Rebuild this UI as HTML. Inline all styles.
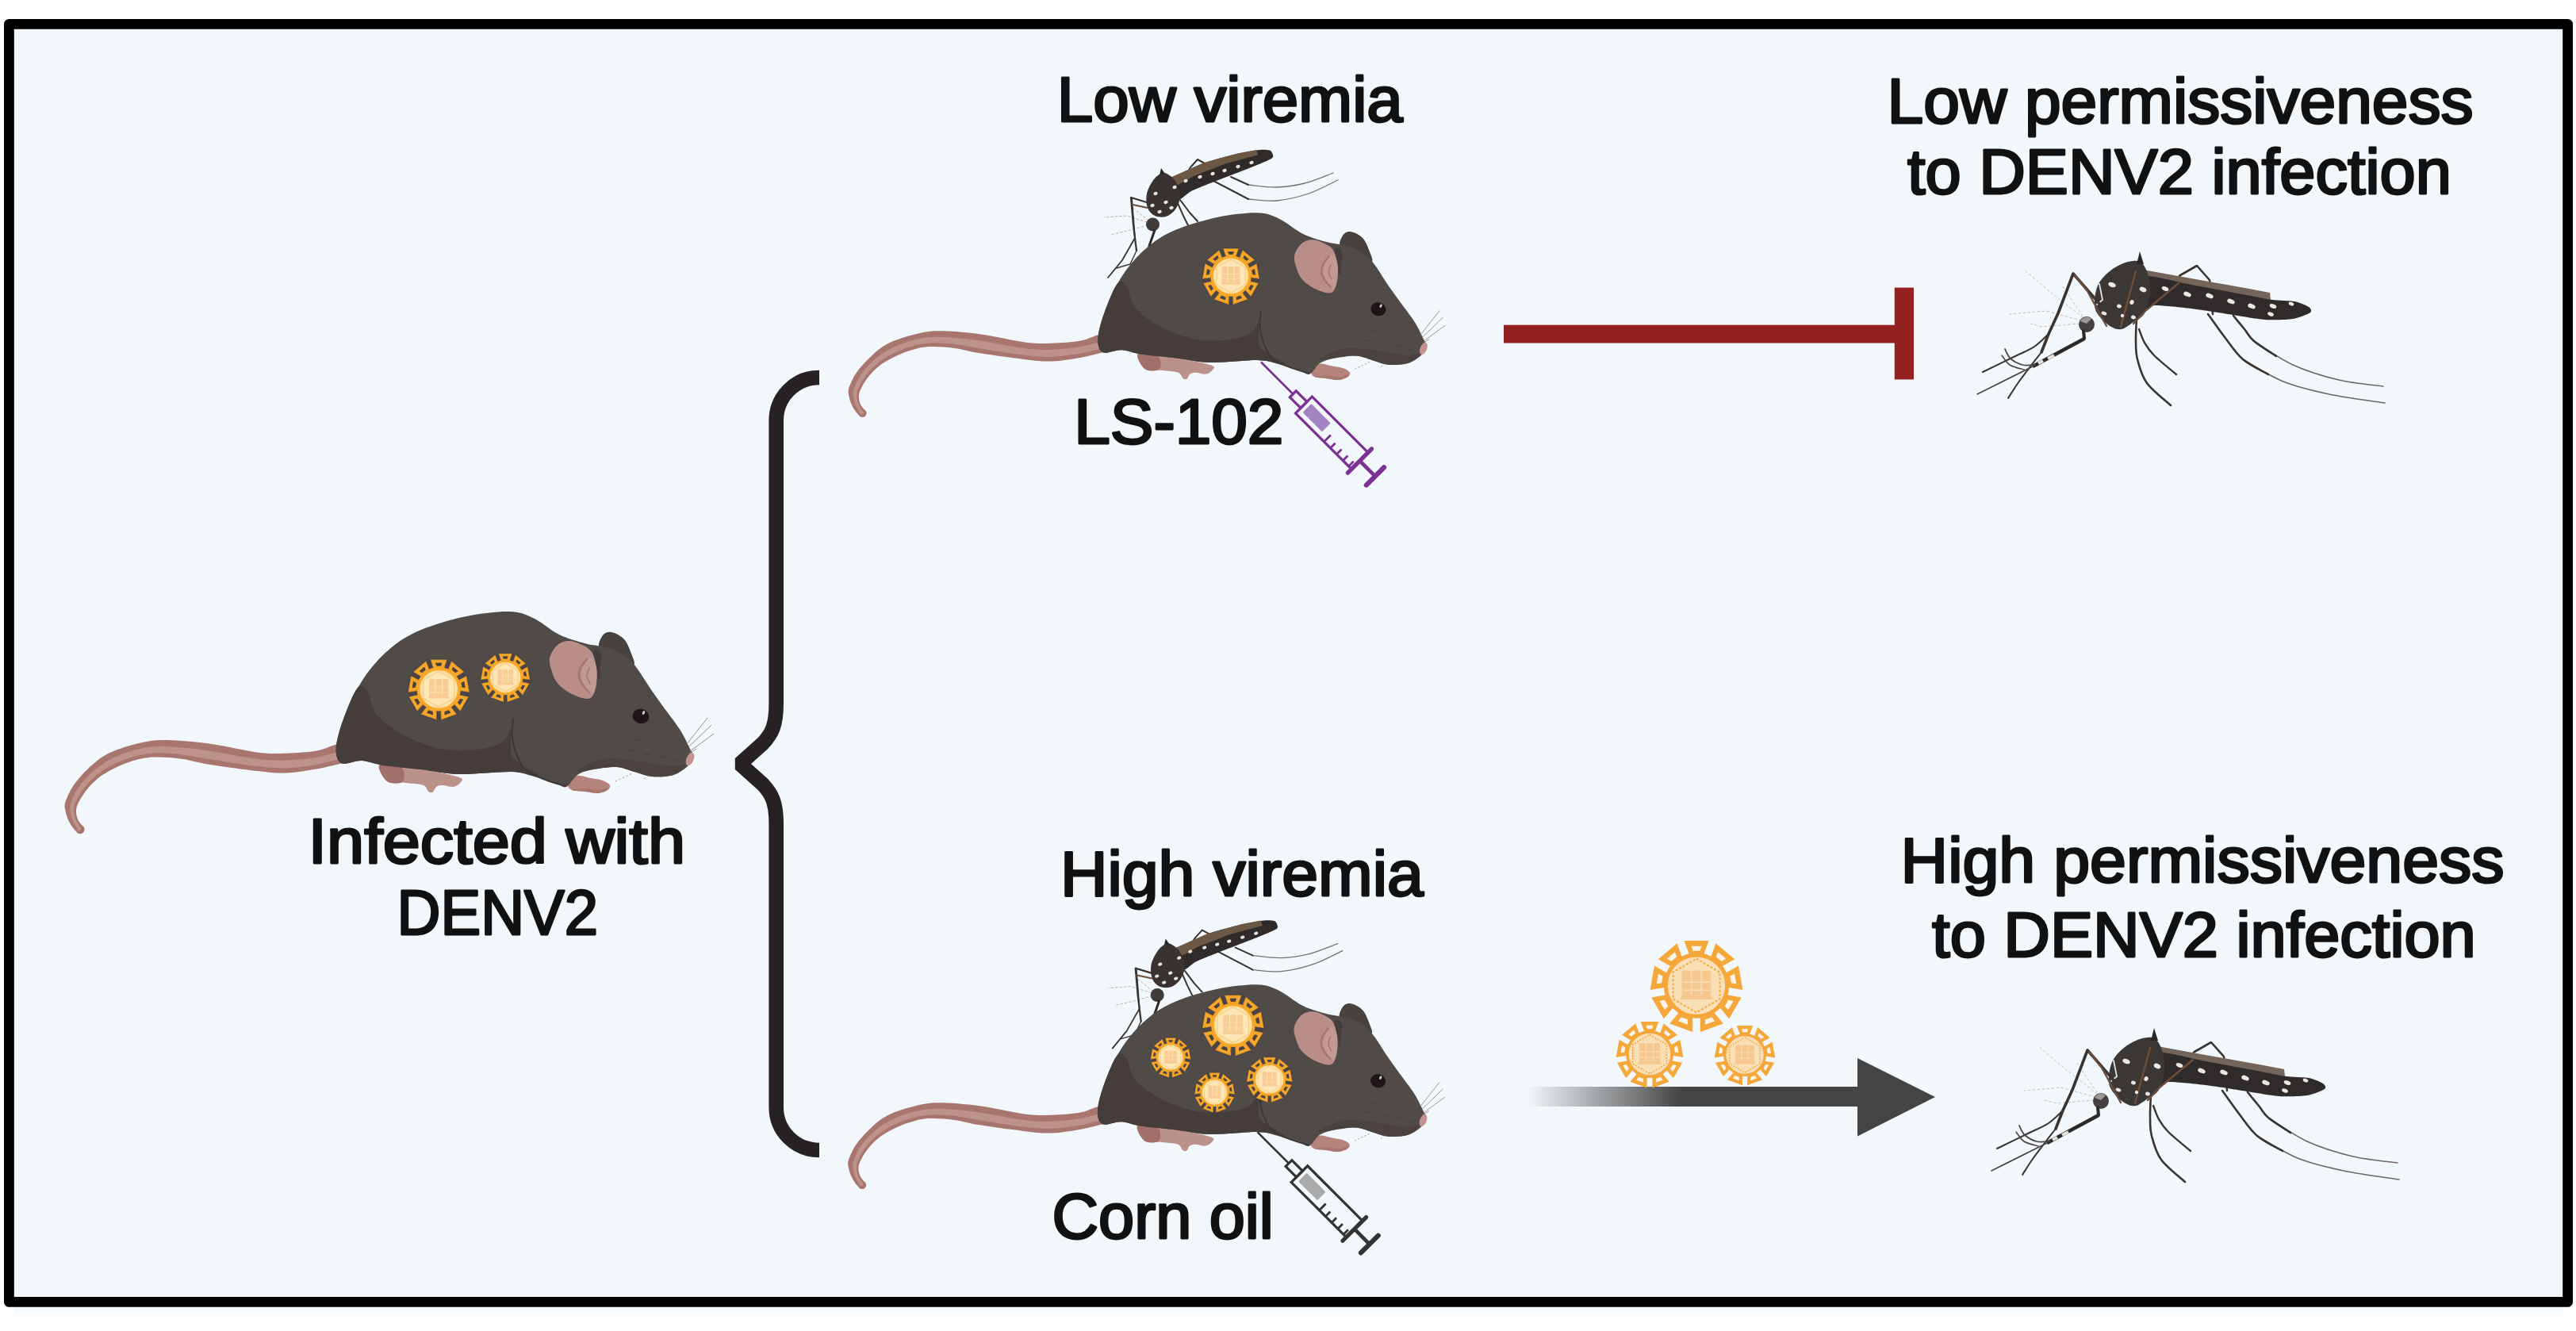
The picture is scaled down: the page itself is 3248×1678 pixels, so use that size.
<!DOCTYPE html>
<html lang="en"><head><meta charset="utf-8"><title>DENV2 LS-102 graphical abstract</title>
<style>
html,body{margin:0;padding:0;background:#fff;}
body{width:3248px;height:1678px;overflow:hidden;}
svg{display:block;font-family:"Liberation Sans",sans-serif;}
.t{font-size:79px;fill:#111;stroke:#111;stroke-width:2.9px;stroke-linejoin:round;paint-order:stroke;text-anchor:middle;}
.liq{fill:var(--l);}
</style></head><body>
<svg width="3248" height="1678" viewBox="0 0 3248 1678">
<defs>
<linearGradient id="ag" x1="1926" x2="2120" y1="0" y2="0" gradientUnits="userSpaceOnUse"><stop offset="0" stop-color="#444" stop-opacity="0"/><stop offset=".12" stop-color="#444" stop-opacity=".12"/><stop offset="1" stop-color="#444" stop-opacity="1"/></linearGradient>
<linearGradient id="fade" x1="0" x2="0" y1="1647" y2="1664" gradientUnits="userSpaceOnUse"><stop offset="0" stop-color="#f2f7fb"/><stop offset="1" stop-color="#fff"/></linearGradient>
<radialGradient id="vg"><stop offset="0" stop-color="#fff3d4"/><stop offset=".75" stop-color="#fde9bb"/><stop offset="1" stop-color="#fbd88f"/></radialGradient>
<g id="syr" fill="none" stroke-linecap="butt"><path d="M0,0 H57" stroke-width="2.6"/><rect x="56" y="-5.5" width="19" height="11" stroke-width="3.2"/><rect x="75" y="-14.5" width="98" height="29" stroke-width="3.2"/><rect class="liq" x="80.5" y="-7.5" width="34" height="15" rx="1.5" stroke="none"/><path d="M125,15 V3 M136,15 V6 M147,15 V6 M158,15 V6 M168,15 V6" stroke-width="2.8"/><path d="M173,-21 V21" stroke-width="5.2" stroke-linecap="round"/><path d="M173,0 H200" stroke-width="4.6"/><path d="M200,-15.5 V15.5" stroke-width="6" stroke-linecap="round"/></g>
<g id="mouse"><path d="M430,938C428.7,938.2 427.2,937.6 422,939C416.8,940.4 409.2,944.8 399,946.6C388.8,948.4 373.5,949.4 361,949.7C348.5,950 340.5,950.5 324,948.4C307.5,946.3 281.7,939.9 262,937.3C242.3,934.7 220.8,933 206,933C191.2,933 184.2,934.9 173,937.5C161.8,940.1 148.5,944.3 139,948.8C129.5,953.3 123.5,958 116,964.6C108.5,971.2 99.6,980.6 94,988.3C88.4,996 84.4,1005.4 82.5,1011C80.6,1016.6 81.9,1018.3 82.5,1022C83.1,1025.7 84.3,1029.6 86,1033.4C87.7,1037.2 90.5,1041.8 92.7,1044.6C94.9,1047.4 98,1049.5 99,1050.5L105.5,1043C104.3,1041.4 99.9,1036.9 98.3,1033.4C96.7,1029.9 95.8,1025.8 96,1022C96.2,1018.2 97,1015.5 99.5,1010.8C102,1006.1 106,999.3 110.7,993.9C115.4,988.5 121,982.8 127.6,978.1C134.2,973.4 142.7,969.1 150.2,965.7C157.7,962.3 165.2,959.7 172.7,957.8C180.2,955.9 185.9,954.7 195.3,954.5C204.7,954.3 217.9,955.2 229,956.7C240.1,958.2 246.2,960.9 262,963.4C277.8,965.9 307.5,970.1 324,972C340.5,973.9 348.5,974.9 361,974.5C373.5,974.1 387.2,971.7 399,969.6C410.8,967.5 426.5,963.3 432,962Z" fill="#a9766f"/><circle cx="101" cy="1045.6" r="5.6" fill="#a9766f"/><path d="M98.9,1047.7C97.7,1045.5 93.5,1038.9 91.8,1034.6C90.1,1030.4 88.9,1025.9 88.6,1022C88.2,1018.1 87.7,1016.3 89.8,1011C91.8,1005.6 95.6,997 100.8,990.1C106,983.2 113.7,975.3 120.9,969.4C128.1,963.6 135.4,959.1 143.8,955C152.2,951 162.4,947.4 171.4,945.1C180.3,942.8 187.8,941.7 197.4,941.2C207,940.8 218.2,941.7 229,942.5C239.8,943.4 246.2,943.9 262,946.3C277.8,948.7 307.5,954.8 324,956.8C340.5,958.8 348.5,958.9 361,958.5C373.5,958.2 387.3,956.7 399,954.7C410.7,952.7 425.9,947.8 431.2,946.4L431.7,956C426.2,957.3 410.8,961.8 399,963.9C387.2,965.9 373.5,968 361,968.3C348.5,968.7 340.5,968.1 324,966.1C307.5,964.2 277.8,959.3 262,956.8C246.2,954.3 240,952.5 229,951.2C218,950 205.6,949.1 196.1,949.4C186.6,949.7 180.3,950.9 172.2,952.9C164.1,954.9 155.6,957.9 147.7,961.6C139.9,965.2 131.8,969.6 125,974.8C118.2,979.9 111.8,986.4 106.9,992.4C102,998.4 98,1005.9 95.7,1010.9C93.5,1015.8 93.1,1018.2 93.1,1022C93.2,1025.8 94.2,1030.1 95.8,1033.9C97.4,1037.7 101.8,1043 102.9,1044.8Z" fill="#bd928a"/><path d="M478,965C480,961.5 489.7,963 500,964C510.3,965 526.8,968.3 540,971C553.2,973.7 572.2,977.5 579,980C585.8,982.5 582.2,984 581,986C579.8,988 575.8,991.3 572,992C568.2,992.7 561.7,990 558,990C554.3,990 552,990.6 550,992C548,993.4 547.6,997.5 546,998.5C544.4,999.5 542.5,999.4 540.5,998C538.5,996.6 538.1,991.8 534,990C529.9,988.2 520.8,988.1 516,987.5C511.2,986.9 509.7,986.9 505,986.5C500.3,986.1 492.5,988.6 488,985C483.5,981.4 476,968.5 478,965Z" fill="#bb928a"/><path d="M478,965C480,961.5 494.8,962.8 500,964C505.2,965.2 507.8,968.3 509,972C510.2,975.7 510.5,983.8 507,986C503.5,988.2 492.8,988.5 488,985C483.2,981.5 476,968.5 478,965Z" fill="#a1706a"/><path d="M716,988C717,985 722.2,979.2 727,978C731.8,976.8 739.5,980 745,981C750.5,982 756,982.5 760,984C764,985.5 768,988 769,990C770,992 768.5,994.3 766,996C763.5,997.7 758.7,999.7 754,1000C749.3,1000.3 743.5,998.7 738,998C732.5,997.3 724.7,997.7 721,996C717.3,994.3 715,991 716,988Z" fill="#b5837c"/><path d="M721,996C721,995.3 732.5,994 738,994C743.5,994 749.3,996.2 754,996C758.7,995.8 764,993 766,993C768,993 768,994.8 766,996C764,997.2 758.7,999.7 754,1000C749.3,1000.3 743.5,998.7 738,998C732.5,997.3 721,996.7 721,996Z" fill="#a1706a" fill-opacity=".7"/><path d="M756,818C752.7,812.8 757.5,804.5 760,801C762.5,797.5 766.5,796.2 771,797C775.5,797.8 782.8,801.5 787,806C791.2,810.5 794,818.7 796,824C798,829.3 801.7,836.7 799,838C796.3,839.3 787.2,835.3 780,832C772.8,828.7 759.3,823.2 756,818Z" fill="#48423f"/><path d="M424,940C425.2,929 430.7,911 437,896C443.3,881 452.5,863.3 462,850C471.5,836.7 482.5,825.3 494,816C505.5,806.7 515.3,800.5 531,794C546.7,787.5 569.5,780.8 588,777C606.5,773.2 628,770.7 642,771C656,771.3 661.5,774.2 672,779C682.5,783.8 694.2,794.7 705,800C715.8,805.3 728.2,808.5 737,811C745.8,813.5 750.8,813.2 758,815C765.2,816.8 773.2,818.3 780,822C786.8,825.7 792,828.8 799,837C806,845.2 815.2,861.2 822,871C828.8,880.8 834,887.7 840,896C846,904.3 853,913 858,921C863,929 867.3,938.5 870,944C872.7,949.5 874.5,950.3 874,954C873.5,957.7 871.2,962.2 867,966C862.8,969.8 856.5,974.8 849,977C841.5,979.2 830.2,979.7 822,979C813.8,978.3 807.5,975 800,973C792.5,971 785.7,967.5 777,967C768.3,966.5 756.2,968.3 748,970C739.8,971.7 733.7,973.3 728,977C722.3,980.7 718.7,990.3 714,992C709.3,993.7 707.3,989.3 700,987C692.7,984.7 679.3,980.3 670,978C660.7,975.7 659.3,973.3 644,973C628.7,972.7 596.8,976.5 578,976C559.2,975.5 546.7,971.8 531,970C515.3,968.2 496.5,966.8 484,965C471.5,963.2 465,959.5 456,959C447,958.5 435.3,965.2 430,962C424.7,958.8 422.8,951 424,940Z" fill="#514b48"/><path d="M424,940C425.2,929 432.3,908.3 437,896C441.7,883.7 447.5,869.8 452,866C456.5,862.2 460.2,867.2 464,873C467.8,878.8 466.8,891.7 475,901C483.2,910.3 497.3,921.5 513,929C528.7,936.5 550.3,944.2 569,946C587.7,947.8 612.5,944.3 625,940C637.5,935.7 640.5,925.7 644,920C647.5,914.3 646,901.3 646,906C646,910.7 642.7,938.7 644,948C645.3,957.3 648,957 654,962C660,967 681.7,976.2 680,978C678.3,979.8 661,973.3 644,973C627,972.7 596.8,976.5 578,976C559.2,975.5 546.7,971.8 531,970C515.3,968.2 496.5,966.8 484,965C471.5,963.2 465,959.5 456,959C447,958.5 435.3,965.2 430,962C424.7,958.8 422.8,951 424,940Z" fill="#453d3a"/><path d="M647,906C646.8,910 645,921.8 646,930C647,938.2 650,948 653,955C656,962 657.8,967.2 664,972C670.2,976.8 681.8,980.8 690,984C698.2,987.2 709.2,989.8 713,991" fill="none" stroke="#3d3634" stroke-width="2" stroke-linecap="round"/><path d="M726,972C728,969.8 747.7,959.2 760,957C772.3,954.8 785.8,957.5 800,959C814.2,960.5 834.3,965.2 845,966C855.7,966.8 863.3,962.2 864,964C864.7,965.8 856,974.5 849,977C842,979.5 830.2,979.7 822,979C813.8,978.3 807.5,975 800,973C792.5,971 785.7,967.5 777,967C768.3,966.5 756.5,969.2 748,970C739.5,970.8 724,974.2 726,972Z" fill="#49423f"/><path d="M748,822C748.7,817.7 753.2,819 755,820C756.8,821 758.7,824.7 759,828C759.3,831.3 757.5,835.3 757,840C756.5,844.7 757,855 756,856C755,857 752.3,851.7 751,846C749.7,840.3 747.3,826.3 748,822Z" fill="#443d3b"/><path d="M693,830C694,824.5 698.2,817.7 702,814C705.8,810.3 711,808.3 716,808C721,807.7 727,809.7 732,812C737,814.3 742.7,817 746,822C749.3,827 751,835.3 752,842C753,848.7 752.7,856.3 752,862C751.3,867.7 749.8,872.8 748,876C746.2,879.2 744.3,880.7 741,881C737.7,881.3 732.5,879.7 728,878C723.5,876.3 718.3,874 714,871C709.7,868 705,864 702,860C699,856 697.5,852 696,847C694.5,842 692,835.5 693,830Z" fill="#b98e88"/><path d="M740,832C737.7,835 733.5,842.7 733,848C732.5,853.3 735,859.5 737,864C739,868.5 743,873.7 745,875C747,876.3 747.8,874.8 749,872C750.2,869.2 751.5,863 752,858C752.5,853 752.8,846.7 752,842C751.2,837.3 749,831.7 747,830C745,828.3 742.3,829 740,832Z" fill="#c29a94"/><path d="M740,831C738.7,832.8 733.7,838.3 732,842C730.3,845.7 729.5,849.3 730,853C730.5,856.7 732.8,860.7 735,864C737.2,867.3 741.7,871.5 743,873" fill="none" stroke="#a67770" stroke-width="2.6" stroke-linecap="round"/><path d="M743,842C742.5,843.7 739.8,848.7 740,852C740.2,855.3 743.3,860.3 744,862" fill="none" stroke="#a67770" stroke-width="1.6" stroke-linecap="round"/><ellipse cx="808" cy="903" rx="10.5" ry="9.2" fill="#1e1517" transform="rotate(15 808 903)"/><ellipse cx="811.5" cy="898.5" rx="1.6" ry="2.6" fill="#cfc6c8" transform="rotate(25 811.5 898.5)"/><ellipse cx="870" cy="957" rx="4.6" ry="8.6" fill="#c3928d" transform="rotate(22 870 957)"/><path d="M866,938 L892,905 M868,942 L897,914 M870,947 L900,925 M869,950 L878,944" stroke="#8a8482" stroke-width=".9" fill="none"/><path d="M776,985 L796,975.5 M812,982 L818,977" stroke="#8a8482" stroke-width="1" stroke-dasharray="2 3" fill="none"/><path d="M780,925 l6,2 M800,932 l8,2 M820,938 l7,3 M836,934 l6,4 M790,945 l9,2 M812,950 l8,2 M832,953 l8,2 M846,946 l6,4 M850,958 l6,2" stroke="#3f3836" stroke-width="1" fill="none" stroke-opacity=".7"/></g>
<g id="mq" fill="none" stroke-linecap="round" stroke-linejoin="round"><path d="M2626,400 L2590,372 L2552,340 M2624,404 L2580,392 L2534,396 M2626,398 L2600,360 M2622,408 L2575,412 L2560,408" stroke="#c4bdb8" stroke-width="1" stroke-dasharray="2.5 3.5"/><path d="M2828,453C2836.5,457.7 2860.8,473.7 2879,481C2897.2,488.3 2915.7,492.5 2937,497C2958.3,501.5 2995.3,506.2 3007,508" stroke="#6d6764" stroke-width="1.6"/><path d="M2842,430C2850.2,435 2873.2,451.8 2891,460C2908.8,468.2 2930,474.5 2949,479C2968,483.5 2995.7,485.7 3005,487" stroke="#6d6764" stroke-width="1.6"/><path d="M2784,396C2787.5,400.8 2797.7,415.5 2805,425C2812.3,434.5 2818.8,445.2 2828,453C2837.2,460.8 2854.7,468.8 2860,472" stroke="#3a3431" stroke-width="2.6"/><path d="M2816,398C2818.3,400.8 2825.7,409.7 2830,415C2834.3,420.3 2835.3,424.3 2842,430C2848.7,435.7 2865.3,445.8 2870,449" stroke="#3a3431" stroke-width="2.6"/><path d="M2716,383 L2749,347 L2770,335 L2786,353 L2790,396" stroke="#3a3431" stroke-width="2.6"/><path d="M2694,400C2693.8,405 2692.8,421.2 2693,430C2693.2,438.8 2692.7,444.2 2695,453C2697.3,461.8 2700,473.3 2707,483C2714,492.7 2732,506.3 2737,511" stroke="#3a3431" stroke-width="2.6"/><path d="M2697,415C2698.2,417.8 2700.8,426.5 2704,432C2707.2,437.5 2709.3,441.3 2716,448C2722.7,454.7 2739.3,468 2744,472" stroke="#3a3431" stroke-width="2.4"/><path d="M2702,340L2763,351L2833,363.5L2862,369L2863,378L2833,373L2763,360L2702,350Z" fill="#74655a" stroke="none"/><path d="M2700,349C2707.9,344.9 2746.4,356.1 2763,359C2779.6,361.9 2820.2,369.6 2833,372C2845.8,374.4 2857.5,377 2865,378C2872.5,379 2887.2,378.9 2893,380C2898.8,381.1 2908.5,385.2 2911,387C2913.5,388.8 2915.5,392.1 2913,394C2910.5,395.9 2898.1,400.9 2891,402C2883.9,403.1 2866.2,403.8 2856,403C2845.8,402.2 2820.6,397.8 2809,396C2797.4,394.2 2774.6,390.4 2763,389C2751.4,387.6 2723.9,384.6 2716,385C2708.1,385.4 2702,396.5 2700,392C2698,387.5 2692.1,353.1 2700,349Z" fill="#2f2b2a" stroke="none"/><path d="M2698,330C2693.3,327.7 2686.3,329 2680,331C2673.7,333 2665.8,337.2 2660,342C2654.2,346.8 2648.2,352.8 2645,360C2641.8,367.2 2640.5,378.3 2641,385C2641.5,391.7 2644.5,395.5 2648,400C2651.5,404.5 2657.5,409.5 2662,412C2666.5,414.5 2670.3,416 2675,415C2679.7,414 2685.2,409.3 2690,406C2694.8,402.7 2700.5,401 2704,395C2707.5,389 2710.3,378.3 2711,370C2711.7,361.7 2710.2,351.7 2708,345C2705.8,338.3 2702.7,332.3 2698,330Z" fill="#3b3735" stroke="none"/><path d="M2694,333 L2698,317 L2703,333 Z" fill="#2a2625" stroke="none"/><path d="M2693,342 L2674,412 M2747,357 L2705,392 L2690,408" stroke="#6b4f3c" stroke-width="2.4"/><ellipse cx="2663" cy="359" rx="5" ry="3" fill="#ebe7e2" stroke="none" transform="rotate(22 2663 359)"/><ellipse cx="2702" cy="365" rx="4.5" ry="3" fill="#ebe7e2" stroke="none" transform="rotate(22 2702 365)"/><ellipse cx="2730" cy="364" rx="4.5" ry="2.6" fill="#ebe7e2" stroke="none" transform="rotate(22 2730 364)"/><ellipse cx="2758" cy="371" rx="5" ry="2.8" fill="#ebe7e2" stroke="none" transform="rotate(22 2758 371)"/><ellipse cx="2786" cy="373" rx="5" ry="2.8" fill="#ebe7e2" stroke="none" transform="rotate(22 2786 373)"/><ellipse cx="2813" cy="380" rx="5" ry="2.8" fill="#ebe7e2" stroke="none" transform="rotate(22 2813 380)"/><ellipse cx="2839" cy="386" rx="5" ry="2.8" fill="#ebe7e2" stroke="none" transform="rotate(22 2839 386)"/><ellipse cx="2866" cy="386" rx="4.5" ry="2.6" fill="#ebe7e2" stroke="none" transform="rotate(22 2866 386)"/><ellipse cx="2863" cy="396" rx="4" ry="2.4" fill="#ebe7e2" stroke="none" transform="rotate(22 2863 396)"/><ellipse cx="2889" cy="383" rx="3.5" ry="2.2" fill="#ebe7e2" stroke="none" transform="rotate(22 2889 383)"/><ellipse cx="2672" cy="386" rx="3" ry="2.4" fill="#ebe7e2" stroke="none" transform="rotate(22 2672 386)"/><ellipse cx="2688" cy="381" rx="2.6" ry="3" fill="#ebe7e2" stroke="none" transform="rotate(22 2688 381)"/><ellipse cx="2653" cy="395" rx="3.5" ry="2.2" fill="#ebe7e2" stroke="none" transform="rotate(22 2653 395)"/><ellipse cx="2690" cy="400" rx="3" ry="2.4" fill="#ebe7e2" stroke="none" transform="rotate(22 2690 400)"/><ellipse cx="2676" cy="398" rx="2.2" ry="2.2" fill="#ebe7e2" stroke="none" transform="rotate(22 2676 398)"/><path d="M2647,358 L2651,378 L2644,384" stroke="#e6e2dd" stroke-width="1.8"/><path d="M2648,384 L2614,345 L2595,395 L2583,421 L2574,444" stroke="#3a3431" stroke-width="3.6"/><path d="M2616,347 L2632,367 L2656,411" stroke="#6b4f3c" stroke-width="2.4"/><path d="M2583,421C2580,423.7 2572,432.3 2565,437C2558,441.7 2551.8,443.7 2541,449C2530.2,454.3 2506.8,465.7 2500,469" stroke="#3a3431" stroke-width="2"/><path d="M2574,444C2571.7,447 2564.8,455.7 2560,462C2555.2,468.3 2549.7,475.3 2545,482C2540.3,488.7 2534.2,498.7 2532,502" stroke="#3a3431" stroke-width="2"/><circle cx="2631" cy="409" r="10" fill="#454140" stroke="none"/><path d="M2623,405 a9,9 0 0 1 14,-3 l-6,6 z" fill="#9c9895" stroke="none"/><path d="M2628,427 L2563,462" stroke="#2d2927" stroke-width="4.6" stroke-linecap="butt"/><path d="M2627,417 L2628,427" stroke="#2d2927" stroke-width="4"/><path d="M2563,462 L2493,497" stroke="#4a4543" stroke-width="1.6"/><path d="M2590,448 L2582,452 M2576,455 L2570,458" stroke="#e6e2dd" stroke-width="4" stroke-linecap="butt"/><path d="M2528,440C2529.2,442 2531.3,448.7 2535,452C2538.7,455.3 2544.8,458.7 2550,460C2555.2,461.3 2563.3,460 2566,460" stroke="#4a4543" stroke-width="1.8"/><path d="M2524,448C2525.7,450 2529.3,457 2534,460C2538.7,463 2549,465 2552,466" stroke="#4a4543" stroke-width="1.6"/></g>
<g id="mqs" fill="none" stroke-linecap="round" stroke-linejoin="round"><path d="M1446,280 L1420,272 L1392,274 M1447,284 L1425,290 L1400,296 M1448,278 L1428,262" stroke="#b9b1ab" stroke-width="1" stroke-dasharray="2.5 3"/><path d="M1574,251C1580,251.3 1597.3,254.2 1610,253C1622.7,251.8 1637.2,248.3 1650,244C1662.8,239.7 1680.8,229.8 1687,227" stroke="#77716e" stroke-width="1.3"/><path d="M1574,233C1580,233.5 1598.2,236.3 1610,236C1621.8,235.7 1633.2,234 1645,231C1656.8,228 1675,220.2 1681,218" stroke="#77716e" stroke-width="1.3"/><path d="M1530,228 L1574,251 M1552,223 L1574,233" stroke="#3a3431" stroke-width="2"/><path d="M1484,238 L1501,211 L1510,201 L1521,207 L1532,226" stroke="#3a3431" stroke-width="2"/><path d="M1484,254 L1492,272 L1499,286 M1488,252 L1500,268 L1510,279" stroke="#3a3431" stroke-width="2"/><path d="M1474,228C1479,222.9 1506.2,210.2 1517,206C1527.8,201.8 1551.1,196.1 1560,194C1568.9,191.9 1582.9,189.6 1588,189C1593.1,188.4 1598.9,188.9 1601,189.5C1603.1,190.1 1604.2,192.7 1604.5,194C1604.8,195.3 1606.8,197.7 1603,200C1599.2,202.3 1583,208.9 1574,212.5C1565,216.1 1540,225.4 1531,229C1522,232.6 1507.4,238.2 1502,241C1496.6,243.8 1491.1,250.2 1488,251C1484.9,251.8 1478.8,249.9 1477,247C1475.2,244.1 1469,233.1 1474,228Z" fill="#2f2b2a" stroke="none"/><path d="M1473,225 L1517,205.5 L1560,193.5 L1584,189 L1586,195.5 L1545,206.5 L1505,222 L1480,236 Z" fill="#6b5743" stroke="none"/><path d="M1466,218C1462.5,218.7 1458.3,221.7 1455,226C1451.7,230.3 1447.3,238 1446,244C1444.7,250 1445.3,257.3 1447,262C1448.7,266.7 1452.2,270.2 1456,272C1459.8,273.8 1465.7,274.3 1470,273C1474.3,271.7 1479,268.2 1482,264C1485,259.8 1487.7,253.3 1488,248C1488.3,242.7 1486,236.3 1484,232C1482,227.7 1479,224.3 1476,222C1473,219.7 1469.5,217.3 1466,218Z" fill="#383331" stroke="none"/><path d="M1462,221 L1464,212 L1469,219 Z" fill="#2a2625" stroke="none"/><ellipse cx="1481" cy="236" rx="2.7" ry="2" fill="#e8e4df" stroke="none" transform="rotate(-18 1481 236)"/><ellipse cx="1495" cy="228" rx="2.7" ry="2" fill="#e8e4df" stroke="none" transform="rotate(-18 1495 228)"/><ellipse cx="1513" cy="223" rx="2.7" ry="2" fill="#e8e4df" stroke="none" transform="rotate(-18 1513 223)"/><ellipse cx="1529" cy="219" rx="2.7" ry="2" fill="#e8e4df" stroke="none" transform="rotate(-18 1529 219)"/><ellipse cx="1544" cy="215" rx="2.7" ry="2" fill="#e8e4df" stroke="none" transform="rotate(-18 1544 215)"/><ellipse cx="1561" cy="210" rx="2.7" ry="2" fill="#e8e4df" stroke="none" transform="rotate(-18 1561 210)"/><ellipse cx="1578" cy="205" rx="2.7" ry="2" fill="#e8e4df" stroke="none" transform="rotate(-18 1578 205)"/><ellipse cx="1457" cy="244" rx="2.7" ry="2" fill="#e8e4df" stroke="none" transform="rotate(-18 1457 244)"/><ellipse cx="1453" cy="259" rx="2.7" ry="2" fill="#e8e4df" stroke="none" transform="rotate(-18 1453 259)"/><ellipse cx="1470" cy="255" rx="2.7" ry="2" fill="#e8e4df" stroke="none" transform="rotate(-18 1470 255)"/><ellipse cx="1477" cy="262" rx="2.7" ry="2" fill="#e8e4df" stroke="none" transform="rotate(-18 1477 262)"/><ellipse cx="1462" cy="267" rx="2.7" ry="2" fill="#e8e4df" stroke="none" transform="rotate(-18 1462 267)"/><circle cx="1453.5" cy="283" r="8.5" fill="#3f3b3a" stroke="none"/><path d="M1456,290 L1449,310" stroke="#2d2927" stroke-width="3"/><path d="M1449,256 L1426,249 L1429,284 L1433,316" stroke="#3a3431" stroke-width="2.2"/><path d="M1427,250 L1431,300 L1415,328 L1397,350" stroke="#3a3431" stroke-width="1.8"/><path d="M1447,262 L1428,258" stroke="#6b4f3c" stroke-width="2"/><path d="M1433,316 L1425,333 L1408,338" stroke="#3a3431" stroke-width="1.4"/></g>
</defs>
<rect x="0" y="0" width="3248" height="1678" fill="#fff"/>
<rect x="17" y="1640" width="3215" height="26" fill="url(#fade)"/>
<rect x="11.4" y="30.4" width="3226.2" height="1611" fill="#f2f7fb" stroke="#000" stroke-width="12.8" stroke-linejoin="round"/>
<path d="M1033,476 C1003,476 978.7,500 978.7,530 L978.7,887 C978.7,915 973,925 962,937 L933,963 L962,989 C973,1001 978.7,1011 978.7,1039 L978.7,1396 C978.7,1426 1003,1450 1033,1450" fill="none" stroke="#262223" stroke-width="18.6" stroke-linejoin="bevel"/>
<use href="#mouse"/>
<g transform="translate(553.2,868.8)"><circle r="38.7" fill="#2c2d44" fill-opacity=".16"/><path transform="rotate(0)" d="M-7.1,-26.3 L-10.8,-37.6 L10.8,-37.6 L7.1,-26.3 Z" fill="#f8a828" stroke="#2c2d44" stroke-opacity=".32" stroke-width="1.9" stroke-linejoin="round"/><path transform="rotate(0)" d="M-2.6,-29.5 L-3.8,-32.9 L3.8,-32.9 L2.6,-29.5 Z" fill="#4a4140" stroke="#4a4140" stroke-width="0.8" stroke-linejoin="round"/><path transform="rotate(40)" d="M-7.1,-26.3 L-10.8,-37.6 L10.8,-37.6 L7.1,-26.3 Z" fill="#f8a828" stroke="#2c2d44" stroke-opacity=".32" stroke-width="1.9" stroke-linejoin="round"/><path transform="rotate(40)" d="M-2.6,-29.5 L-3.8,-32.9 L3.8,-32.9 L2.6,-29.5 Z" fill="#4a4140" stroke="#4a4140" stroke-width="0.8" stroke-linejoin="round"/><path transform="rotate(80)" d="M-7.1,-26.3 L-10.8,-37.6 L10.8,-37.6 L7.1,-26.3 Z" fill="#f8a828" stroke="#2c2d44" stroke-opacity=".32" stroke-width="1.9" stroke-linejoin="round"/><path transform="rotate(80)" d="M-2.6,-29.5 L-3.8,-32.9 L3.8,-32.9 L2.6,-29.5 Z" fill="#4a4140" stroke="#4a4140" stroke-width="0.8" stroke-linejoin="round"/><path transform="rotate(120)" d="M-7.1,-26.3 L-10.8,-37.6 L10.8,-37.6 L7.1,-26.3 Z" fill="#f8a828" stroke="#2c2d44" stroke-opacity=".32" stroke-width="1.9" stroke-linejoin="round"/><path transform="rotate(120)" d="M-2.6,-29.5 L-3.8,-32.9 L3.8,-32.9 L2.6,-29.5 Z" fill="#4a4140" stroke="#4a4140" stroke-width="0.8" stroke-linejoin="round"/><path transform="rotate(160)" d="M-7.1,-26.3 L-10.8,-37.6 L10.8,-37.6 L7.1,-26.3 Z" fill="#f8a828" stroke="#2c2d44" stroke-opacity=".32" stroke-width="1.9" stroke-linejoin="round"/><path transform="rotate(160)" d="M-2.6,-29.5 L-3.8,-32.9 L3.8,-32.9 L2.6,-29.5 Z" fill="#4a4140" stroke="#4a4140" stroke-width="0.8" stroke-linejoin="round"/><path transform="rotate(200)" d="M-7.1,-26.3 L-10.8,-37.6 L10.8,-37.6 L7.1,-26.3 Z" fill="#f8a828" stroke="#2c2d44" stroke-opacity=".32" stroke-width="1.9" stroke-linejoin="round"/><path transform="rotate(200)" d="M-2.6,-29.5 L-3.8,-32.9 L3.8,-32.9 L2.6,-29.5 Z" fill="#4a4140" stroke="#4a4140" stroke-width="0.8" stroke-linejoin="round"/><path transform="rotate(240)" d="M-7.1,-26.3 L-10.8,-37.6 L10.8,-37.6 L7.1,-26.3 Z" fill="#f8a828" stroke="#2c2d44" stroke-opacity=".32" stroke-width="1.9" stroke-linejoin="round"/><path transform="rotate(240)" d="M-2.6,-29.5 L-3.8,-32.9 L3.8,-32.9 L2.6,-29.5 Z" fill="#4a4140" stroke="#4a4140" stroke-width="0.8" stroke-linejoin="round"/><path transform="rotate(280)" d="M-7.1,-26.3 L-10.8,-37.6 L10.8,-37.6 L7.1,-26.3 Z" fill="#f8a828" stroke="#2c2d44" stroke-opacity=".32" stroke-width="1.9" stroke-linejoin="round"/><path transform="rotate(280)" d="M-2.6,-29.5 L-3.8,-32.9 L3.8,-32.9 L2.6,-29.5 Z" fill="#4a4140" stroke="#4a4140" stroke-width="0.8" stroke-linejoin="round"/><path transform="rotate(320)" d="M-7.1,-26.3 L-10.8,-37.6 L10.8,-37.6 L7.1,-26.3 Z" fill="#f8a828" stroke="#2c2d44" stroke-opacity=".32" stroke-width="1.9" stroke-linejoin="round"/><path transform="rotate(320)" d="M-2.6,-29.5 L-3.8,-32.9 L3.8,-32.9 L2.6,-29.5 Z" fill="#4a4140" stroke="#4a4140" stroke-width="0.8" stroke-linejoin="round"/><circle r="25.8" fill="url(#vg)" stroke="#f8a828" stroke-width="3.8"/><path d="M0,-22.6L19.5,-11.3L19.5,11.3L0,22.6L-19.5,11.3L-19.5,-11.3Z" fill="#fde6b4" fill-opacity=".7" stroke="#f5b95a" stroke-opacity=".55" stroke-width="1.3" stroke-linejoin="round"/><rect x="-12.2" y="-12.8" width="7.5" height="23.3" rx="1.9" fill="#f8cd95"/><rect x="-3.8" y="-12.8" width="7.5" height="23.3" rx="1.9" fill="#f8cd95"/><rect x="4.7" y="-12.8" width="7.5" height="23.3" rx="1.9" fill="#f8cd95"/><path d="M-11.3,7.5 L11.3,7.5 L13.9,11.7 L-13.9,11.7 Z" fill="#f8cd95"/><path d="M-11.3,-3 H11.3 M-11.3,3.8 H11.3" stroke="#fbdcaa" stroke-width="1.1" fill="none"/></g>
<g transform="translate(637.2,854)"><circle r="31.1" fill="#2c2d44" fill-opacity=".16"/><path transform="rotate(0)" d="M-5.7,-21.1 L-8.7,-30.2 L8.7,-30.2 L5.7,-21.1 Z" fill="#f8a828" stroke="#2c2d44" stroke-opacity=".32" stroke-width="1.5" stroke-linejoin="round"/><path transform="rotate(0)" d="M-2.1,-23.7 L-3,-26.4 L3,-26.4 L2.1,-23.7 Z" fill="#4a4140" stroke="#4a4140" stroke-width="0.6" stroke-linejoin="round"/><path transform="rotate(40)" d="M-5.7,-21.1 L-8.7,-30.2 L8.7,-30.2 L5.7,-21.1 Z" fill="#f8a828" stroke="#2c2d44" stroke-opacity=".32" stroke-width="1.5" stroke-linejoin="round"/><path transform="rotate(40)" d="M-2.1,-23.7 L-3,-26.4 L3,-26.4 L2.1,-23.7 Z" fill="#4a4140" stroke="#4a4140" stroke-width="0.6" stroke-linejoin="round"/><path transform="rotate(80)" d="M-5.7,-21.1 L-8.7,-30.2 L8.7,-30.2 L5.7,-21.1 Z" fill="#f8a828" stroke="#2c2d44" stroke-opacity=".32" stroke-width="1.5" stroke-linejoin="round"/><path transform="rotate(80)" d="M-2.1,-23.7 L-3,-26.4 L3,-26.4 L2.1,-23.7 Z" fill="#4a4140" stroke="#4a4140" stroke-width="0.6" stroke-linejoin="round"/><path transform="rotate(120)" d="M-5.7,-21.1 L-8.7,-30.2 L8.7,-30.2 L5.7,-21.1 Z" fill="#f8a828" stroke="#2c2d44" stroke-opacity=".32" stroke-width="1.5" stroke-linejoin="round"/><path transform="rotate(120)" d="M-2.1,-23.7 L-3,-26.4 L3,-26.4 L2.1,-23.7 Z" fill="#4a4140" stroke="#4a4140" stroke-width="0.6" stroke-linejoin="round"/><path transform="rotate(160)" d="M-5.7,-21.1 L-8.7,-30.2 L8.7,-30.2 L5.7,-21.1 Z" fill="#f8a828" stroke="#2c2d44" stroke-opacity=".32" stroke-width="1.5" stroke-linejoin="round"/><path transform="rotate(160)" d="M-2.1,-23.7 L-3,-26.4 L3,-26.4 L2.1,-23.7 Z" fill="#4a4140" stroke="#4a4140" stroke-width="0.6" stroke-linejoin="round"/><path transform="rotate(200)" d="M-5.7,-21.1 L-8.7,-30.2 L8.7,-30.2 L5.7,-21.1 Z" fill="#f8a828" stroke="#2c2d44" stroke-opacity=".32" stroke-width="1.5" stroke-linejoin="round"/><path transform="rotate(200)" d="M-2.1,-23.7 L-3,-26.4 L3,-26.4 L2.1,-23.7 Z" fill="#4a4140" stroke="#4a4140" stroke-width="0.6" stroke-linejoin="round"/><path transform="rotate(240)" d="M-5.7,-21.1 L-8.7,-30.2 L8.7,-30.2 L5.7,-21.1 Z" fill="#f8a828" stroke="#2c2d44" stroke-opacity=".32" stroke-width="1.5" stroke-linejoin="round"/><path transform="rotate(240)" d="M-2.1,-23.7 L-3,-26.4 L3,-26.4 L2.1,-23.7 Z" fill="#4a4140" stroke="#4a4140" stroke-width="0.6" stroke-linejoin="round"/><path transform="rotate(280)" d="M-5.7,-21.1 L-8.7,-30.2 L8.7,-30.2 L5.7,-21.1 Z" fill="#f8a828" stroke="#2c2d44" stroke-opacity=".32" stroke-width="1.5" stroke-linejoin="round"/><path transform="rotate(280)" d="M-2.1,-23.7 L-3,-26.4 L3,-26.4 L2.1,-23.7 Z" fill="#4a4140" stroke="#4a4140" stroke-width="0.6" stroke-linejoin="round"/><path transform="rotate(320)" d="M-5.7,-21.1 L-8.7,-30.2 L8.7,-30.2 L5.7,-21.1 Z" fill="#f8a828" stroke="#2c2d44" stroke-opacity=".32" stroke-width="1.5" stroke-linejoin="round"/><path transform="rotate(320)" d="M-2.1,-23.7 L-3,-26.4 L3,-26.4 L2.1,-23.7 Z" fill="#4a4140" stroke="#4a4140" stroke-width="0.6" stroke-linejoin="round"/><circle r="20.7" fill="url(#vg)" stroke="#f8a828" stroke-width="3"/><path d="M0,-18.1L15.7,-9.1L15.7,9.1L0,18.1L-15.7,9.1L-15.7,-9.1Z" fill="#fde6b4" fill-opacity=".7" stroke="#f5b95a" stroke-opacity=".55" stroke-width="1.1" stroke-linejoin="round"/><rect x="-9.8" y="-10.3" width="6" height="18.7" rx="1.5" fill="#f8cd95"/><rect x="-3" y="-10.3" width="6" height="18.7" rx="1.5" fill="#f8cd95"/><rect x="3.8" y="-10.3" width="6" height="18.7" rx="1.5" fill="#f8cd95"/><path d="M-9.1,6 L9.1,6 L11.2,9.4 L-11.2,9.4 Z" fill="#f8cd95"/><path d="M-9.1,-2.4 H9.1 M-9.1,3 H9.1" stroke="#fbdcaa" stroke-width="0.9" fill="none"/></g>
<g transform="translate(1590,456.5) rotate(45) scale(1.0175)" stroke="#7b3393" style="--l:#a184c1"><use href="#syr"/></g>
<g transform="translate(1585.4,1427.1) rotate(45)" stroke="#333" style="--l:#aaa"><use href="#syr"/></g>
<use href="#mqs" transform="translate(0,0)"/><g transform="translate(1798.7,435) scale(0.92) translate(-874.1,-952.2)"><use href="#mouse"/></g>
<g transform="translate(1552,348)"><circle r="36.1" fill="#2c2d44" fill-opacity=".16"/><path transform="rotate(0)" d="M-6.7,-24.5 L-10.1,-35 L10.1,-35 L6.7,-24.5 Z" fill="#f8a828" stroke="#2c2d44" stroke-opacity=".32" stroke-width="1.8" stroke-linejoin="round"/><path transform="rotate(0)" d="M-2.5,-27.5 L-3.5,-30.6 L3.5,-30.6 L2.5,-27.5 Z" fill="#4a4140" stroke="#4a4140" stroke-width="0.7" stroke-linejoin="round"/><path transform="rotate(40)" d="M-6.7,-24.5 L-10.1,-35 L10.1,-35 L6.7,-24.5 Z" fill="#f8a828" stroke="#2c2d44" stroke-opacity=".32" stroke-width="1.8" stroke-linejoin="round"/><path transform="rotate(40)" d="M-2.5,-27.5 L-3.5,-30.6 L3.5,-30.6 L2.5,-27.5 Z" fill="#4a4140" stroke="#4a4140" stroke-width="0.7" stroke-linejoin="round"/><path transform="rotate(80)" d="M-6.7,-24.5 L-10.1,-35 L10.1,-35 L6.7,-24.5 Z" fill="#f8a828" stroke="#2c2d44" stroke-opacity=".32" stroke-width="1.8" stroke-linejoin="round"/><path transform="rotate(80)" d="M-2.5,-27.5 L-3.5,-30.6 L3.5,-30.6 L2.5,-27.5 Z" fill="#4a4140" stroke="#4a4140" stroke-width="0.7" stroke-linejoin="round"/><path transform="rotate(120)" d="M-6.7,-24.5 L-10.1,-35 L10.1,-35 L6.7,-24.5 Z" fill="#f8a828" stroke="#2c2d44" stroke-opacity=".32" stroke-width="1.8" stroke-linejoin="round"/><path transform="rotate(120)" d="M-2.5,-27.5 L-3.5,-30.6 L3.5,-30.6 L2.5,-27.5 Z" fill="#4a4140" stroke="#4a4140" stroke-width="0.7" stroke-linejoin="round"/><path transform="rotate(160)" d="M-6.7,-24.5 L-10.1,-35 L10.1,-35 L6.7,-24.5 Z" fill="#f8a828" stroke="#2c2d44" stroke-opacity=".32" stroke-width="1.8" stroke-linejoin="round"/><path transform="rotate(160)" d="M-2.5,-27.5 L-3.5,-30.6 L3.5,-30.6 L2.5,-27.5 Z" fill="#4a4140" stroke="#4a4140" stroke-width="0.7" stroke-linejoin="round"/><path transform="rotate(200)" d="M-6.7,-24.5 L-10.1,-35 L10.1,-35 L6.7,-24.5 Z" fill="#f8a828" stroke="#2c2d44" stroke-opacity=".32" stroke-width="1.8" stroke-linejoin="round"/><path transform="rotate(200)" d="M-2.5,-27.5 L-3.5,-30.6 L3.5,-30.6 L2.5,-27.5 Z" fill="#4a4140" stroke="#4a4140" stroke-width="0.7" stroke-linejoin="round"/><path transform="rotate(240)" d="M-6.7,-24.5 L-10.1,-35 L10.1,-35 L6.7,-24.5 Z" fill="#f8a828" stroke="#2c2d44" stroke-opacity=".32" stroke-width="1.8" stroke-linejoin="round"/><path transform="rotate(240)" d="M-2.5,-27.5 L-3.5,-30.6 L3.5,-30.6 L2.5,-27.5 Z" fill="#4a4140" stroke="#4a4140" stroke-width="0.7" stroke-linejoin="round"/><path transform="rotate(280)" d="M-6.7,-24.5 L-10.1,-35 L10.1,-35 L6.7,-24.5 Z" fill="#f8a828" stroke="#2c2d44" stroke-opacity=".32" stroke-width="1.8" stroke-linejoin="round"/><path transform="rotate(280)" d="M-2.5,-27.5 L-3.5,-30.6 L3.5,-30.6 L2.5,-27.5 Z" fill="#4a4140" stroke="#4a4140" stroke-width="0.7" stroke-linejoin="round"/><path transform="rotate(320)" d="M-6.7,-24.5 L-10.1,-35 L10.1,-35 L6.7,-24.5 Z" fill="#f8a828" stroke="#2c2d44" stroke-opacity=".32" stroke-width="1.8" stroke-linejoin="round"/><path transform="rotate(320)" d="M-2.5,-27.5 L-3.5,-30.6 L3.5,-30.6 L2.5,-27.5 Z" fill="#4a4140" stroke="#4a4140" stroke-width="0.7" stroke-linejoin="round"/><circle r="24" fill="url(#vg)" stroke="#f8a828" stroke-width="3.5"/><path d="M0,-21L18.2,-10.5L18.2,10.5L0,21L-18.2,10.5L-18.2,-10.5Z" fill="#fde6b4" fill-opacity=".7" stroke="#f5b95a" stroke-opacity=".55" stroke-width="1.2" stroke-linejoin="round"/><rect x="-11.4" y="-11.9" width="7" height="21.7" rx="1.8" fill="#f8cd95"/><rect x="-3.5" y="-11.9" width="7" height="21.7" rx="1.8" fill="#f8cd95"/><rect x="4.4" y="-11.9" width="7" height="21.7" rx="1.8" fill="#f8cd95"/><path d="M-10.5,7 L10.5,7 L12.9,10.8 L-12.9,10.8 Z" fill="#f8cd95"/><path d="M-10.5,-2.8 H10.5 M-10.5,3.5 H10.5" stroke="#fbdcaa" stroke-width="1.1" fill="none"/></g>
<use href="#mqs" transform="translate(5.7,971.6)"/><g transform="translate(1798.3,1408) scale(0.92) translate(-874.1,-952.2)"><use href="#mouse"/></g>
<g transform="translate(1554.8,1292.2)"><circle r="38.9" fill="#2c2d44" fill-opacity=".16"/><path transform="rotate(0)" d="M-7.2,-26.5 L-10.9,-37.8 L10.9,-37.8 L7.2,-26.5 Z" fill="#f8a828" stroke="#2c2d44" stroke-opacity=".32" stroke-width="1.9" stroke-linejoin="round"/><path transform="rotate(0)" d="M-2.6,-29.7 L-3.8,-33.1 L3.8,-33.1 L2.6,-29.7 Z" fill="#4a4140" stroke="#4a4140" stroke-width="0.8" stroke-linejoin="round"/><path transform="rotate(40)" d="M-7.2,-26.5 L-10.9,-37.8 L10.9,-37.8 L7.2,-26.5 Z" fill="#f8a828" stroke="#2c2d44" stroke-opacity=".32" stroke-width="1.9" stroke-linejoin="round"/><path transform="rotate(40)" d="M-2.6,-29.7 L-3.8,-33.1 L3.8,-33.1 L2.6,-29.7 Z" fill="#4a4140" stroke="#4a4140" stroke-width="0.8" stroke-linejoin="round"/><path transform="rotate(80)" d="M-7.2,-26.5 L-10.9,-37.8 L10.9,-37.8 L7.2,-26.5 Z" fill="#f8a828" stroke="#2c2d44" stroke-opacity=".32" stroke-width="1.9" stroke-linejoin="round"/><path transform="rotate(80)" d="M-2.6,-29.7 L-3.8,-33.1 L3.8,-33.1 L2.6,-29.7 Z" fill="#4a4140" stroke="#4a4140" stroke-width="0.8" stroke-linejoin="round"/><path transform="rotate(120)" d="M-7.2,-26.5 L-10.9,-37.8 L10.9,-37.8 L7.2,-26.5 Z" fill="#f8a828" stroke="#2c2d44" stroke-opacity=".32" stroke-width="1.9" stroke-linejoin="round"/><path transform="rotate(120)" d="M-2.6,-29.7 L-3.8,-33.1 L3.8,-33.1 L2.6,-29.7 Z" fill="#4a4140" stroke="#4a4140" stroke-width="0.8" stroke-linejoin="round"/><path transform="rotate(160)" d="M-7.2,-26.5 L-10.9,-37.8 L10.9,-37.8 L7.2,-26.5 Z" fill="#f8a828" stroke="#2c2d44" stroke-opacity=".32" stroke-width="1.9" stroke-linejoin="round"/><path transform="rotate(160)" d="M-2.6,-29.7 L-3.8,-33.1 L3.8,-33.1 L2.6,-29.7 Z" fill="#4a4140" stroke="#4a4140" stroke-width="0.8" stroke-linejoin="round"/><path transform="rotate(200)" d="M-7.2,-26.5 L-10.9,-37.8 L10.9,-37.8 L7.2,-26.5 Z" fill="#f8a828" stroke="#2c2d44" stroke-opacity=".32" stroke-width="1.9" stroke-linejoin="round"/><path transform="rotate(200)" d="M-2.6,-29.7 L-3.8,-33.1 L3.8,-33.1 L2.6,-29.7 Z" fill="#4a4140" stroke="#4a4140" stroke-width="0.8" stroke-linejoin="round"/><path transform="rotate(240)" d="M-7.2,-26.5 L-10.9,-37.8 L10.9,-37.8 L7.2,-26.5 Z" fill="#f8a828" stroke="#2c2d44" stroke-opacity=".32" stroke-width="1.9" stroke-linejoin="round"/><path transform="rotate(240)" d="M-2.6,-29.7 L-3.8,-33.1 L3.8,-33.1 L2.6,-29.7 Z" fill="#4a4140" stroke="#4a4140" stroke-width="0.8" stroke-linejoin="round"/><path transform="rotate(280)" d="M-7.2,-26.5 L-10.9,-37.8 L10.9,-37.8 L7.2,-26.5 Z" fill="#f8a828" stroke="#2c2d44" stroke-opacity=".32" stroke-width="1.9" stroke-linejoin="round"/><path transform="rotate(280)" d="M-2.6,-29.7 L-3.8,-33.1 L3.8,-33.1 L2.6,-29.7 Z" fill="#4a4140" stroke="#4a4140" stroke-width="0.8" stroke-linejoin="round"/><path transform="rotate(320)" d="M-7.2,-26.5 L-10.9,-37.8 L10.9,-37.8 L7.2,-26.5 Z" fill="#f8a828" stroke="#2c2d44" stroke-opacity=".32" stroke-width="1.9" stroke-linejoin="round"/><path transform="rotate(320)" d="M-2.6,-29.7 L-3.8,-33.1 L3.8,-33.1 L2.6,-29.7 Z" fill="#4a4140" stroke="#4a4140" stroke-width="0.8" stroke-linejoin="round"/><circle r="25.9" fill="url(#vg)" stroke="#f8a828" stroke-width="3.8"/><path d="M0,-22.7L19.6,-11.3L19.6,11.3L0,22.7L-19.6,11.3L-19.6,-11.3Z" fill="#fde6b4" fill-opacity=".7" stroke="#f5b95a" stroke-opacity=".55" stroke-width="1.3" stroke-linejoin="round"/><rect x="-12.3" y="-12.9" width="7.6" height="23.4" rx="1.9" fill="#f8cd95"/><rect x="-3.8" y="-12.9" width="7.6" height="23.4" rx="1.9" fill="#f8cd95"/><rect x="4.7" y="-12.9" width="7.6" height="23.4" rx="1.9" fill="#f8cd95"/><path d="M-11.3,7.6 L11.3,7.6 L14,11.7 L-14,11.7 Z" fill="#f8cd95"/><path d="M-11.3,-3 H11.3 M-11.3,3.8 H11.3" stroke="#fbdcaa" stroke-width="1.1" fill="none"/></g>
<g transform="translate(1476,1333)"><circle r="25.4" fill="#2c2d44" fill-opacity=".16"/><path transform="rotate(0)" d="M-4.7,-17.3 L-7.1,-24.7 L7.1,-24.7 L4.7,-17.3 Z" fill="#f8a828" stroke="#2c2d44" stroke-opacity=".32" stroke-width="1.2" stroke-linejoin="round"/><path transform="rotate(0)" d="M-1.7,-19.4 L-2.5,-21.6 L2.5,-21.6 L1.7,-19.4 Z" fill="#4a4140" stroke="#4a4140" stroke-width="0.5" stroke-linejoin="round"/><path transform="rotate(40)" d="M-4.7,-17.3 L-7.1,-24.7 L7.1,-24.7 L4.7,-17.3 Z" fill="#f8a828" stroke="#2c2d44" stroke-opacity=".32" stroke-width="1.2" stroke-linejoin="round"/><path transform="rotate(40)" d="M-1.7,-19.4 L-2.5,-21.6 L2.5,-21.6 L1.7,-19.4 Z" fill="#4a4140" stroke="#4a4140" stroke-width="0.5" stroke-linejoin="round"/><path transform="rotate(80)" d="M-4.7,-17.3 L-7.1,-24.7 L7.1,-24.7 L4.7,-17.3 Z" fill="#f8a828" stroke="#2c2d44" stroke-opacity=".32" stroke-width="1.2" stroke-linejoin="round"/><path transform="rotate(80)" d="M-1.7,-19.4 L-2.5,-21.6 L2.5,-21.6 L1.7,-19.4 Z" fill="#4a4140" stroke="#4a4140" stroke-width="0.5" stroke-linejoin="round"/><path transform="rotate(120)" d="M-4.7,-17.3 L-7.1,-24.7 L7.1,-24.7 L4.7,-17.3 Z" fill="#f8a828" stroke="#2c2d44" stroke-opacity=".32" stroke-width="1.2" stroke-linejoin="round"/><path transform="rotate(120)" d="M-1.7,-19.4 L-2.5,-21.6 L2.5,-21.6 L1.7,-19.4 Z" fill="#4a4140" stroke="#4a4140" stroke-width="0.5" stroke-linejoin="round"/><path transform="rotate(160)" d="M-4.7,-17.3 L-7.1,-24.7 L7.1,-24.7 L4.7,-17.3 Z" fill="#f8a828" stroke="#2c2d44" stroke-opacity=".32" stroke-width="1.2" stroke-linejoin="round"/><path transform="rotate(160)" d="M-1.7,-19.4 L-2.5,-21.6 L2.5,-21.6 L1.7,-19.4 Z" fill="#4a4140" stroke="#4a4140" stroke-width="0.5" stroke-linejoin="round"/><path transform="rotate(200)" d="M-4.7,-17.3 L-7.1,-24.7 L7.1,-24.7 L4.7,-17.3 Z" fill="#f8a828" stroke="#2c2d44" stroke-opacity=".32" stroke-width="1.2" stroke-linejoin="round"/><path transform="rotate(200)" d="M-1.7,-19.4 L-2.5,-21.6 L2.5,-21.6 L1.7,-19.4 Z" fill="#4a4140" stroke="#4a4140" stroke-width="0.5" stroke-linejoin="round"/><path transform="rotate(240)" d="M-4.7,-17.3 L-7.1,-24.7 L7.1,-24.7 L4.7,-17.3 Z" fill="#f8a828" stroke="#2c2d44" stroke-opacity=".32" stroke-width="1.2" stroke-linejoin="round"/><path transform="rotate(240)" d="M-1.7,-19.4 L-2.5,-21.6 L2.5,-21.6 L1.7,-19.4 Z" fill="#4a4140" stroke="#4a4140" stroke-width="0.5" stroke-linejoin="round"/><path transform="rotate(280)" d="M-4.7,-17.3 L-7.1,-24.7 L7.1,-24.7 L4.7,-17.3 Z" fill="#f8a828" stroke="#2c2d44" stroke-opacity=".32" stroke-width="1.2" stroke-linejoin="round"/><path transform="rotate(280)" d="M-1.7,-19.4 L-2.5,-21.6 L2.5,-21.6 L1.7,-19.4 Z" fill="#4a4140" stroke="#4a4140" stroke-width="0.5" stroke-linejoin="round"/><path transform="rotate(320)" d="M-4.7,-17.3 L-7.1,-24.7 L7.1,-24.7 L4.7,-17.3 Z" fill="#f8a828" stroke="#2c2d44" stroke-opacity=".32" stroke-width="1.2" stroke-linejoin="round"/><path transform="rotate(320)" d="M-1.7,-19.4 L-2.5,-21.6 L2.5,-21.6 L1.7,-19.4 Z" fill="#4a4140" stroke="#4a4140" stroke-width="0.5" stroke-linejoin="round"/><circle r="16.9" fill="url(#vg)" stroke="#f8a828" stroke-width="2.5"/><path d="M0,-14.8L12.8,-7.4L12.8,7.4L0,14.8L-12.8,7.4L-12.8,-7.4Z" fill="#fde6b4" fill-opacity=".7" stroke="#f5b95a" stroke-opacity=".55" stroke-width="0.9" stroke-linejoin="round"/><rect x="-8" y="-8.4" width="4.9" height="15.3" rx="1.2" fill="#f8cd95"/><rect x="-2.5" y="-8.4" width="4.9" height="15.3" rx="1.2" fill="#f8cd95"/><rect x="3.1" y="-8.4" width="4.9" height="15.3" rx="1.2" fill="#f8cd95"/><path d="M-7.4,4.9 L7.4,4.9 L9.1,7.7 L-9.1,7.7 Z" fill="#f8cd95"/><path d="M-7.4,-2 H7.4 M-7.4,2.5 H7.4" stroke="#fbdcaa" stroke-width="0.7" fill="none"/></g>
<g transform="translate(1531.5,1377)"><circle r="25.4" fill="#2c2d44" fill-opacity=".16"/><path transform="rotate(0)" d="M-4.7,-17.3 L-7.1,-24.7 L7.1,-24.7 L4.7,-17.3 Z" fill="#f8a828" stroke="#2c2d44" stroke-opacity=".32" stroke-width="1.2" stroke-linejoin="round"/><path transform="rotate(0)" d="M-1.7,-19.4 L-2.5,-21.6 L2.5,-21.6 L1.7,-19.4 Z" fill="#4a4140" stroke="#4a4140" stroke-width="0.5" stroke-linejoin="round"/><path transform="rotate(40)" d="M-4.7,-17.3 L-7.1,-24.7 L7.1,-24.7 L4.7,-17.3 Z" fill="#f8a828" stroke="#2c2d44" stroke-opacity=".32" stroke-width="1.2" stroke-linejoin="round"/><path transform="rotate(40)" d="M-1.7,-19.4 L-2.5,-21.6 L2.5,-21.6 L1.7,-19.4 Z" fill="#4a4140" stroke="#4a4140" stroke-width="0.5" stroke-linejoin="round"/><path transform="rotate(80)" d="M-4.7,-17.3 L-7.1,-24.7 L7.1,-24.7 L4.7,-17.3 Z" fill="#f8a828" stroke="#2c2d44" stroke-opacity=".32" stroke-width="1.2" stroke-linejoin="round"/><path transform="rotate(80)" d="M-1.7,-19.4 L-2.5,-21.6 L2.5,-21.6 L1.7,-19.4 Z" fill="#4a4140" stroke="#4a4140" stroke-width="0.5" stroke-linejoin="round"/><path transform="rotate(120)" d="M-4.7,-17.3 L-7.1,-24.7 L7.1,-24.7 L4.7,-17.3 Z" fill="#f8a828" stroke="#2c2d44" stroke-opacity=".32" stroke-width="1.2" stroke-linejoin="round"/><path transform="rotate(120)" d="M-1.7,-19.4 L-2.5,-21.6 L2.5,-21.6 L1.7,-19.4 Z" fill="#4a4140" stroke="#4a4140" stroke-width="0.5" stroke-linejoin="round"/><path transform="rotate(160)" d="M-4.7,-17.3 L-7.1,-24.7 L7.1,-24.7 L4.7,-17.3 Z" fill="#f8a828" stroke="#2c2d44" stroke-opacity=".32" stroke-width="1.2" stroke-linejoin="round"/><path transform="rotate(160)" d="M-1.7,-19.4 L-2.5,-21.6 L2.5,-21.6 L1.7,-19.4 Z" fill="#4a4140" stroke="#4a4140" stroke-width="0.5" stroke-linejoin="round"/><path transform="rotate(200)" d="M-4.7,-17.3 L-7.1,-24.7 L7.1,-24.7 L4.7,-17.3 Z" fill="#f8a828" stroke="#2c2d44" stroke-opacity=".32" stroke-width="1.2" stroke-linejoin="round"/><path transform="rotate(200)" d="M-1.7,-19.4 L-2.5,-21.6 L2.5,-21.6 L1.7,-19.4 Z" fill="#4a4140" stroke="#4a4140" stroke-width="0.5" stroke-linejoin="round"/><path transform="rotate(240)" d="M-4.7,-17.3 L-7.1,-24.7 L7.1,-24.7 L4.7,-17.3 Z" fill="#f8a828" stroke="#2c2d44" stroke-opacity=".32" stroke-width="1.2" stroke-linejoin="round"/><path transform="rotate(240)" d="M-1.7,-19.4 L-2.5,-21.6 L2.5,-21.6 L1.7,-19.4 Z" fill="#4a4140" stroke="#4a4140" stroke-width="0.5" stroke-linejoin="round"/><path transform="rotate(280)" d="M-4.7,-17.3 L-7.1,-24.7 L7.1,-24.7 L4.7,-17.3 Z" fill="#f8a828" stroke="#2c2d44" stroke-opacity=".32" stroke-width="1.2" stroke-linejoin="round"/><path transform="rotate(280)" d="M-1.7,-19.4 L-2.5,-21.6 L2.5,-21.6 L1.7,-19.4 Z" fill="#4a4140" stroke="#4a4140" stroke-width="0.5" stroke-linejoin="round"/><path transform="rotate(320)" d="M-4.7,-17.3 L-7.1,-24.7 L7.1,-24.7 L4.7,-17.3 Z" fill="#f8a828" stroke="#2c2d44" stroke-opacity=".32" stroke-width="1.2" stroke-linejoin="round"/><path transform="rotate(320)" d="M-1.7,-19.4 L-2.5,-21.6 L2.5,-21.6 L1.7,-19.4 Z" fill="#4a4140" stroke="#4a4140" stroke-width="0.5" stroke-linejoin="round"/><circle r="16.9" fill="url(#vg)" stroke="#f8a828" stroke-width="2.5"/><path d="M0,-14.8L12.8,-7.4L12.8,7.4L0,14.8L-12.8,7.4L-12.8,-7.4Z" fill="#fde6b4" fill-opacity=".7" stroke="#f5b95a" stroke-opacity=".55" stroke-width="0.9" stroke-linejoin="round"/><rect x="-8" y="-8.4" width="4.9" height="15.3" rx="1.2" fill="#f8cd95"/><rect x="-2.5" y="-8.4" width="4.9" height="15.3" rx="1.2" fill="#f8cd95"/><rect x="3.1" y="-8.4" width="4.9" height="15.3" rx="1.2" fill="#f8cd95"/><path d="M-7.4,4.9 L7.4,4.9 L9.1,7.7 L-9.1,7.7 Z" fill="#f8cd95"/><path d="M-7.4,-2 H7.4 M-7.4,2.5 H7.4" stroke="#fbdcaa" stroke-width="0.7" fill="none"/></g>
<g transform="translate(1600.7,1360.8)"><circle r="28.8" fill="#2c2d44" fill-opacity=".16"/><path transform="rotate(0)" d="M-5.3,-19.6 L-8.1,-28 L8.1,-28 L5.3,-19.6 Z" fill="#f8a828" stroke="#2c2d44" stroke-opacity=".32" stroke-width="1.4" stroke-linejoin="round"/><path transform="rotate(0)" d="M-2,-22 L-2.8,-24.5 L2.8,-24.5 L2,-22 Z" fill="#4a4140" stroke="#4a4140" stroke-width="0.6" stroke-linejoin="round"/><path transform="rotate(40)" d="M-5.3,-19.6 L-8.1,-28 L8.1,-28 L5.3,-19.6 Z" fill="#f8a828" stroke="#2c2d44" stroke-opacity=".32" stroke-width="1.4" stroke-linejoin="round"/><path transform="rotate(40)" d="M-2,-22 L-2.8,-24.5 L2.8,-24.5 L2,-22 Z" fill="#4a4140" stroke="#4a4140" stroke-width="0.6" stroke-linejoin="round"/><path transform="rotate(80)" d="M-5.3,-19.6 L-8.1,-28 L8.1,-28 L5.3,-19.6 Z" fill="#f8a828" stroke="#2c2d44" stroke-opacity=".32" stroke-width="1.4" stroke-linejoin="round"/><path transform="rotate(80)" d="M-2,-22 L-2.8,-24.5 L2.8,-24.5 L2,-22 Z" fill="#4a4140" stroke="#4a4140" stroke-width="0.6" stroke-linejoin="round"/><path transform="rotate(120)" d="M-5.3,-19.6 L-8.1,-28 L8.1,-28 L5.3,-19.6 Z" fill="#f8a828" stroke="#2c2d44" stroke-opacity=".32" stroke-width="1.4" stroke-linejoin="round"/><path transform="rotate(120)" d="M-2,-22 L-2.8,-24.5 L2.8,-24.5 L2,-22 Z" fill="#4a4140" stroke="#4a4140" stroke-width="0.6" stroke-linejoin="round"/><path transform="rotate(160)" d="M-5.3,-19.6 L-8.1,-28 L8.1,-28 L5.3,-19.6 Z" fill="#f8a828" stroke="#2c2d44" stroke-opacity=".32" stroke-width="1.4" stroke-linejoin="round"/><path transform="rotate(160)" d="M-2,-22 L-2.8,-24.5 L2.8,-24.5 L2,-22 Z" fill="#4a4140" stroke="#4a4140" stroke-width="0.6" stroke-linejoin="round"/><path transform="rotate(200)" d="M-5.3,-19.6 L-8.1,-28 L8.1,-28 L5.3,-19.6 Z" fill="#f8a828" stroke="#2c2d44" stroke-opacity=".32" stroke-width="1.4" stroke-linejoin="round"/><path transform="rotate(200)" d="M-2,-22 L-2.8,-24.5 L2.8,-24.5 L2,-22 Z" fill="#4a4140" stroke="#4a4140" stroke-width="0.6" stroke-linejoin="round"/><path transform="rotate(240)" d="M-5.3,-19.6 L-8.1,-28 L8.1,-28 L5.3,-19.6 Z" fill="#f8a828" stroke="#2c2d44" stroke-opacity=".32" stroke-width="1.4" stroke-linejoin="round"/><path transform="rotate(240)" d="M-2,-22 L-2.8,-24.5 L2.8,-24.5 L2,-22 Z" fill="#4a4140" stroke="#4a4140" stroke-width="0.6" stroke-linejoin="round"/><path transform="rotate(280)" d="M-5.3,-19.6 L-8.1,-28 L8.1,-28 L5.3,-19.6 Z" fill="#f8a828" stroke="#2c2d44" stroke-opacity=".32" stroke-width="1.4" stroke-linejoin="round"/><path transform="rotate(280)" d="M-2,-22 L-2.8,-24.5 L2.8,-24.5 L2,-22 Z" fill="#4a4140" stroke="#4a4140" stroke-width="0.6" stroke-linejoin="round"/><path transform="rotate(320)" d="M-5.3,-19.6 L-8.1,-28 L8.1,-28 L5.3,-19.6 Z" fill="#f8a828" stroke="#2c2d44" stroke-opacity=".32" stroke-width="1.4" stroke-linejoin="round"/><path transform="rotate(320)" d="M-2,-22 L-2.8,-24.5 L2.8,-24.5 L2,-22 Z" fill="#4a4140" stroke="#4a4140" stroke-width="0.6" stroke-linejoin="round"/><circle r="19.2" fill="url(#vg)" stroke="#f8a828" stroke-width="2.8"/><path d="M0,-16.8L14.5,-8.4L14.5,8.4L0,16.8L-14.5,8.4L-14.5,-8.4Z" fill="#fde6b4" fill-opacity=".7" stroke="#f5b95a" stroke-opacity=".55" stroke-width="1" stroke-linejoin="round"/><rect x="-9.1" y="-9.5" width="5.6" height="17.4" rx="1.4" fill="#f8cd95"/><rect x="-2.8" y="-9.5" width="5.6" height="17.4" rx="1.4" fill="#f8cd95"/><rect x="3.5" y="-9.5" width="5.6" height="17.4" rx="1.4" fill="#f8cd95"/><path d="M-8.4,5.6 L8.4,5.6 L10.4,8.7 L-10.4,8.7 Z" fill="#f8cd95"/><path d="M-8.4,-2.2 H8.4 M-8.4,2.8 H8.4" stroke="#fbdcaa" stroke-width="0.8" fill="none"/></g>
<rect x="1896" y="409.7" width="505" height="22.8" fill="#94211f"/><rect x="2388.8" y="362.6" width="24.2" height="115.8" fill="#94211f"/>
<rect x="1926" y="1370" width="418" height="25" fill="url(#ag)"/><path d="M2342,1334 L2440,1383 L2342,1432.5 Z" fill="#444"/>
<g transform="translate(2139,1242.6)"><path transform="rotate(0)" d="M-9.3,-39.5 L-15.5,-56.5 L15.5,-56.5 L9.3,-39.5 Z" fill="#f6a73a"/><path transform="rotate(0)" d="M-4,-44.4 L-5.7,-49.4 L5.7,-49.4 L4,-44.4 Z" fill="#fcf4e8" stroke="#fcf4e8" stroke-width="1.1" stroke-linejoin="round"/><path transform="rotate(40)" d="M-9.3,-39.5 L-15.5,-56.5 L15.5,-56.5 L9.3,-39.5 Z" fill="#f6a73a"/><path transform="rotate(40)" d="M-4,-44.4 L-5.7,-49.4 L5.7,-49.4 L4,-44.4 Z" fill="#fcf4e8" stroke="#fcf4e8" stroke-width="1.1" stroke-linejoin="round"/><path transform="rotate(80)" d="M-9.3,-39.5 L-15.5,-56.5 L15.5,-56.5 L9.3,-39.5 Z" fill="#f6a73a"/><path transform="rotate(80)" d="M-4,-44.4 L-5.7,-49.4 L5.7,-49.4 L4,-44.4 Z" fill="#fcf4e8" stroke="#fcf4e8" stroke-width="1.1" stroke-linejoin="round"/><path transform="rotate(120)" d="M-9.3,-39.5 L-15.5,-56.5 L15.5,-56.5 L9.3,-39.5 Z" fill="#f6a73a"/><path transform="rotate(120)" d="M-4,-44.4 L-5.7,-49.4 L5.7,-49.4 L4,-44.4 Z" fill="#fcf4e8" stroke="#fcf4e8" stroke-width="1.1" stroke-linejoin="round"/><path transform="rotate(160)" d="M-9.3,-39.5 L-15.5,-56.5 L15.5,-56.5 L9.3,-39.5 Z" fill="#f6a73a"/><path transform="rotate(160)" d="M-4,-44.4 L-5.7,-49.4 L5.7,-49.4 L4,-44.4 Z" fill="#fcf4e8" stroke="#fcf4e8" stroke-width="1.1" stroke-linejoin="round"/><path transform="rotate(200)" d="M-9.3,-39.5 L-15.5,-56.5 L15.5,-56.5 L9.3,-39.5 Z" fill="#f6a73a"/><path transform="rotate(200)" d="M-4,-44.4 L-5.7,-49.4 L5.7,-49.4 L4,-44.4 Z" fill="#fcf4e8" stroke="#fcf4e8" stroke-width="1.1" stroke-linejoin="round"/><path transform="rotate(240)" d="M-9.3,-39.5 L-15.5,-56.5 L15.5,-56.5 L9.3,-39.5 Z" fill="#f6a73a"/><path transform="rotate(240)" d="M-4,-44.4 L-5.7,-49.4 L5.7,-49.4 L4,-44.4 Z" fill="#fcf4e8" stroke="#fcf4e8" stroke-width="1.1" stroke-linejoin="round"/><path transform="rotate(280)" d="M-9.3,-39.5 L-15.5,-56.5 L15.5,-56.5 L9.3,-39.5 Z" fill="#f6a73a"/><path transform="rotate(280)" d="M-4,-44.4 L-5.7,-49.4 L5.7,-49.4 L4,-44.4 Z" fill="#fcf4e8" stroke="#fcf4e8" stroke-width="1.1" stroke-linejoin="round"/><path transform="rotate(320)" d="M-9.3,-39.5 L-15.5,-56.5 L15.5,-56.5 L9.3,-39.5 Z" fill="#f6a73a"/><path transform="rotate(320)" d="M-4,-44.4 L-5.7,-49.4 L5.7,-49.4 L4,-44.4 Z" fill="#fcf4e8" stroke="#fcf4e8" stroke-width="1.1" stroke-linejoin="round"/><circle r="38.7" fill="#f9e0ba" stroke="#f6a73a" stroke-width="5.1"/><path d="M0,-33.9L29.4,-16.9L29.4,16.9L0,33.9L-29.4,16.9L-29.4,-17Z" fill="#f8dfb5" stroke="#f6a73a" stroke-width="2" stroke-dasharray="2.8 2.3" stroke-linejoin="round"/><rect x="-18.4" y="-19.2" width="11.3" height="35" rx="2.8" fill="#f6c88f"/><rect x="-5.7" y="-19.2" width="11.3" height="35" rx="2.8" fill="#f6c88f"/><rect x="7.1" y="-19.2" width="11.3" height="35" rx="2.8" fill="#f6c88f"/><path d="M-16.9,11.3 L16.9,11.3 L20.9,17.5 L-20.9,17.5 Z" fill="#f6c88f"/><path d="M-16.9,-4.5 H16.9 M-16.9,5.7 H16.9" stroke="#f9ddb4" stroke-width="1.7" fill="none"/></g>
<g transform="translate(2080,1329)"><path transform="rotate(0)" d="M-6.8,-28.7 L-11.3,-41 L11.3,-41 L6.8,-28.7 Z" fill="#f6a73a"/><path transform="rotate(0)" d="M-2.9,-32.2 L-4.1,-35.9 L4.1,-35.9 L2.9,-32.2 Z" fill="#fcf4e8" stroke="#fcf4e8" stroke-width="0.8" stroke-linejoin="round"/><path transform="rotate(40)" d="M-6.8,-28.7 L-11.3,-41 L11.3,-41 L6.8,-28.7 Z" fill="#f6a73a"/><path transform="rotate(40)" d="M-2.9,-32.2 L-4.1,-35.9 L4.1,-35.9 L2.9,-32.2 Z" fill="#fcf4e8" stroke="#fcf4e8" stroke-width="0.8" stroke-linejoin="round"/><path transform="rotate(80)" d="M-6.8,-28.7 L-11.3,-41 L11.3,-41 L6.8,-28.7 Z" fill="#f6a73a"/><path transform="rotate(80)" d="M-2.9,-32.2 L-4.1,-35.9 L4.1,-35.9 L2.9,-32.2 Z" fill="#fcf4e8" stroke="#fcf4e8" stroke-width="0.8" stroke-linejoin="round"/><path transform="rotate(120)" d="M-6.8,-28.7 L-11.3,-41 L11.3,-41 L6.8,-28.7 Z" fill="#f6a73a"/><path transform="rotate(120)" d="M-2.9,-32.2 L-4.1,-35.9 L4.1,-35.9 L2.9,-32.2 Z" fill="#fcf4e8" stroke="#fcf4e8" stroke-width="0.8" stroke-linejoin="round"/><path transform="rotate(160)" d="M-6.8,-28.7 L-11.3,-41 L11.3,-41 L6.8,-28.7 Z" fill="#f6a73a"/><path transform="rotate(160)" d="M-2.9,-32.2 L-4.1,-35.9 L4.1,-35.9 L2.9,-32.2 Z" fill="#fcf4e8" stroke="#fcf4e8" stroke-width="0.8" stroke-linejoin="round"/><path transform="rotate(200)" d="M-6.8,-28.7 L-11.3,-41 L11.3,-41 L6.8,-28.7 Z" fill="#f6a73a"/><path transform="rotate(200)" d="M-2.9,-32.2 L-4.1,-35.9 L4.1,-35.9 L2.9,-32.2 Z" fill="#fcf4e8" stroke="#fcf4e8" stroke-width="0.8" stroke-linejoin="round"/><path transform="rotate(240)" d="M-6.8,-28.7 L-11.3,-41 L11.3,-41 L6.8,-28.7 Z" fill="#f6a73a"/><path transform="rotate(240)" d="M-2.9,-32.2 L-4.1,-35.9 L4.1,-35.9 L2.9,-32.2 Z" fill="#fcf4e8" stroke="#fcf4e8" stroke-width="0.8" stroke-linejoin="round"/><path transform="rotate(280)" d="M-6.8,-28.7 L-11.3,-41 L11.3,-41 L6.8,-28.7 Z" fill="#f6a73a"/><path transform="rotate(280)" d="M-2.9,-32.2 L-4.1,-35.9 L4.1,-35.9 L2.9,-32.2 Z" fill="#fcf4e8" stroke="#fcf4e8" stroke-width="0.8" stroke-linejoin="round"/><path transform="rotate(320)" d="M-6.8,-28.7 L-11.3,-41 L11.3,-41 L6.8,-28.7 Z" fill="#f6a73a"/><path transform="rotate(320)" d="M-2.9,-32.2 L-4.1,-35.9 L4.1,-35.9 L2.9,-32.2 Z" fill="#fcf4e8" stroke="#fcf4e8" stroke-width="0.8" stroke-linejoin="round"/><circle r="28.1" fill="#f9e0ba" stroke="#f6a73a" stroke-width="3.7"/><path d="M0,-24.6L21.3,-12.3L21.3,12.3L0,24.6L-21.3,12.3L-21.3,-12.3Z" fill="#f8dfb5" stroke="#f6a73a" stroke-width="1.4" stroke-dasharray="2.1 1.6" stroke-linejoin="round"/><rect x="-13.3" y="-13.9" width="8.2" height="25.4" rx="2.1" fill="#f6c88f"/><rect x="-4.1" y="-13.9" width="8.2" height="25.4" rx="2.1" fill="#f6c88f"/><rect x="5.1" y="-13.9" width="8.2" height="25.4" rx="2.1" fill="#f6c88f"/><path d="M-12.3,8.2 L12.3,8.2 L15.2,12.7 L-15.2,12.7 Z" fill="#f6c88f"/><path d="M-12.3,-3.3 H12.3 M-12.3,4.1 H12.3" stroke="#f9ddb4" stroke-width="1.2" fill="none"/></g>
<g transform="translate(2200,1330)"><path transform="rotate(0)" d="M-6.1,-25.9 L-10.2,-37 L10.2,-37 L6.1,-25.9 Z" fill="#f6a73a"/><path transform="rotate(0)" d="M-2.6,-29 L-3.7,-32.4 L3.7,-32.4 L2.6,-29 Z" fill="#fcf4e8" stroke="#fcf4e8" stroke-width="0.7" stroke-linejoin="round"/><path transform="rotate(40)" d="M-6.1,-25.9 L-10.2,-37 L10.2,-37 L6.1,-25.9 Z" fill="#f6a73a"/><path transform="rotate(40)" d="M-2.6,-29 L-3.7,-32.4 L3.7,-32.4 L2.6,-29 Z" fill="#fcf4e8" stroke="#fcf4e8" stroke-width="0.7" stroke-linejoin="round"/><path transform="rotate(80)" d="M-6.1,-25.9 L-10.2,-37 L10.2,-37 L6.1,-25.9 Z" fill="#f6a73a"/><path transform="rotate(80)" d="M-2.6,-29 L-3.7,-32.4 L3.7,-32.4 L2.6,-29 Z" fill="#fcf4e8" stroke="#fcf4e8" stroke-width="0.7" stroke-linejoin="round"/><path transform="rotate(120)" d="M-6.1,-25.9 L-10.2,-37 L10.2,-37 L6.1,-25.9 Z" fill="#f6a73a"/><path transform="rotate(120)" d="M-2.6,-29 L-3.7,-32.4 L3.7,-32.4 L2.6,-29 Z" fill="#fcf4e8" stroke="#fcf4e8" stroke-width="0.7" stroke-linejoin="round"/><path transform="rotate(160)" d="M-6.1,-25.9 L-10.2,-37 L10.2,-37 L6.1,-25.9 Z" fill="#f6a73a"/><path transform="rotate(160)" d="M-2.6,-29 L-3.7,-32.4 L3.7,-32.4 L2.6,-29 Z" fill="#fcf4e8" stroke="#fcf4e8" stroke-width="0.7" stroke-linejoin="round"/><path transform="rotate(200)" d="M-6.1,-25.9 L-10.2,-37 L10.2,-37 L6.1,-25.9 Z" fill="#f6a73a"/><path transform="rotate(200)" d="M-2.6,-29 L-3.7,-32.4 L3.7,-32.4 L2.6,-29 Z" fill="#fcf4e8" stroke="#fcf4e8" stroke-width="0.7" stroke-linejoin="round"/><path transform="rotate(240)" d="M-6.1,-25.9 L-10.2,-37 L10.2,-37 L6.1,-25.9 Z" fill="#f6a73a"/><path transform="rotate(240)" d="M-2.6,-29 L-3.7,-32.4 L3.7,-32.4 L2.6,-29 Z" fill="#fcf4e8" stroke="#fcf4e8" stroke-width="0.7" stroke-linejoin="round"/><path transform="rotate(280)" d="M-6.1,-25.9 L-10.2,-37 L10.2,-37 L6.1,-25.9 Z" fill="#f6a73a"/><path transform="rotate(280)" d="M-2.6,-29 L-3.7,-32.4 L3.7,-32.4 L2.6,-29 Z" fill="#fcf4e8" stroke="#fcf4e8" stroke-width="0.7" stroke-linejoin="round"/><path transform="rotate(320)" d="M-6.1,-25.9 L-10.2,-37 L10.2,-37 L6.1,-25.9 Z" fill="#f6a73a"/><path transform="rotate(320)" d="M-2.6,-29 L-3.7,-32.4 L3.7,-32.4 L2.6,-29 Z" fill="#fcf4e8" stroke="#fcf4e8" stroke-width="0.7" stroke-linejoin="round"/><circle r="25.3" fill="#f9e0ba" stroke="#f6a73a" stroke-width="3.3"/><path d="M0,-22.2L19.2,-11.1L19.2,11.1L0,22.2L-19.2,11.1L-19.2,-11.1Z" fill="#f8dfb5" stroke="#f6a73a" stroke-width="1.3" stroke-dasharray="1.9 1.5" stroke-linejoin="round"/><rect x="-12" y="-12.6" width="7.4" height="22.9" rx="1.9" fill="#f6c88f"/><rect x="-3.7" y="-12.6" width="7.4" height="22.9" rx="1.9" fill="#f6c88f"/><rect x="4.6" y="-12.6" width="7.4" height="22.9" rx="1.9" fill="#f6c88f"/><path d="M-11.1,7.4 L11.1,7.4 L13.7,11.5 L-13.7,11.5 Z" fill="#f6c88f"/><path d="M-11.1,-3 H11.1 M-11.1,3.7 H11.1" stroke="#f9ddb4" stroke-width="1.1" fill="none"/></g>
<use href="#mq"/>
<use href="#mq" transform="translate(18,979)"/>
<text class="t" x="1550.8" y="153.3" textLength="436" lengthAdjust="spacingAndGlyphs">Low viremia</text>
<text class="t" x="2749.1" y="154.8" textLength="739" lengthAdjust="spacingAndGlyphs">Low permissiveness</text>
<text class="t" x="2747.9" y="243.9" textLength="686" lengthAdjust="spacingAndGlyphs">to DENV2 infection</text>
<text class="t" x="2777.1" y="1111.7" textLength="761" lengthAdjust="spacingAndGlyphs">High permissiveness</text>
<text class="t" x="2778.9" y="1205.6" textLength="685.6" lengthAdjust="spacingAndGlyphs">to DENV2 infection</text>
<text class="t" x="626.3" y="1087.5" textLength="475.4" lengthAdjust="spacingAndGlyphs">Infected with</text>
<text class="t" x="627.3" y="1177.7" textLength="253.4" lengthAdjust="spacingAndGlyphs">DENV2</text>
<text class="t" x="1565.9" y="1129.2" textLength="457.8" lengthAdjust="spacingAndGlyphs">High viremia</text>
<text class="t" x="1486.3" y="559.3" textLength="264.2" lengthAdjust="spacingAndGlyphs">LS-102</text>
<text class="t" x="1466.2" y="1561.1" textLength="279.3" lengthAdjust="spacingAndGlyphs">Corn oil</text>

</svg>
</body></html>
